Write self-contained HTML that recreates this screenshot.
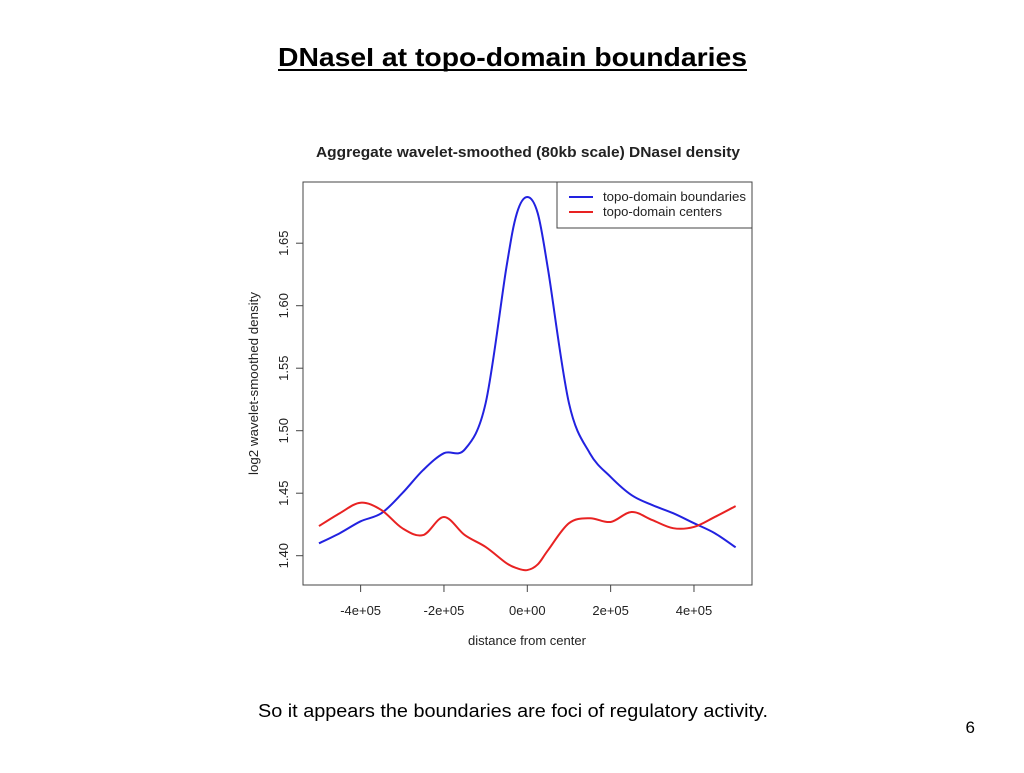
<!DOCTYPE html>
<html><head><meta charset="utf-8"><style>
body{margin:0;width:1024px;height:768px;background:#fff;overflow:hidden;font-family:"Liberation Sans",sans-serif}
svg text{font-family:"Liberation Sans",sans-serif}
</style></head><body>
<svg width="1024" height="768">
<text x="278" y="66" font-size="26" font-weight="bold" textLength="469" lengthAdjust="spacingAndGlyphs">DNaseI at topo-domain boundaries</text>
<line x1="278" y1="70" x2="747" y2="70" stroke="#000" stroke-width="2"/>
<text x="316" y="157" font-size="14.5" font-weight="bold" fill="#222" textLength="424" lengthAdjust="spacingAndGlyphs">Aggregate wavelet-smoothed (80kb scale) DNaseI density</text>
<g id="plot"></g>
<text x="258" y="717" font-size="18" textLength="510" lengthAdjust="spacingAndGlyphs">So it appears the boundaries are foci of regulatory activity.</text>
<text x="975" y="733" text-anchor="end" font-size="17">6</text>
</svg>
<script>
const xs=[-500,-450,-400,-350,-300,-250,-200,-150,-100,-50,-25,0,25,50,100,150,200,250,300,350,400,450,500];
const boundaries=[1.4099,1.418,1.4275,1.434,1.450,1.4685,1.482,1.485,1.522,1.631,1.674,1.687,1.674,1.6285,1.522,1.482,1.463,1.4485,1.4405,1.434,1.426,1.418,1.4067];
const centers=[1.4237,1.434,1.4424,1.4365,1.422,1.4165,1.431,1.4165,1.407,1.394,1.390,1.3885,1.393,1.4045,1.426,1.430,1.427,1.435,1.4285,1.422,1.423,1.431,1.4397];
const xTicks=[-400,-200,0,200,400];
const xTickLabels=["-4e+05","-2e+05","0e+00","2e+05","4e+05"];
const yTicks=[1.40,1.45,1.50,1.55,1.60,1.65];
const yTickLabels=["1.40","1.45","1.50","1.55","1.60","1.65"];
const NS="http://www.w3.org/2000/svg";
const g=document.getElementById('plot');
const X=v=>527.3+v*0.4167;
const Y=v=>555.7-(v-1.40)*1250;
function mk(t,a,txt){const e=document.createElementNS(NS,t);for(const k in a)e.setAttribute(k,a[k]);if(txt!==undefined)e.textContent=txt;g.appendChild(e);return e;}
let e=mk('rect',{x:303,y:182,width:449,height:403,fill:'none',stroke:'#444','stroke-width':1});


xTicks.forEach((t,i)=>{
 let l=mk('line',{x1:X(t),x2:X(t),y1:585,y2:592,stroke:'#444'});
 
 
 let s=mk('text',{x:X(t),y:615,'text-anchor':'middle','font-size':13,fill:'#222'},xTickLabels[i]);
 
 
});
yTicks.forEach((t,i)=>{
 let l=mk('line',{x1:296,x2:303,y1:Y(t),y2:Y(t),stroke:'#444'});
 
 
 let s=mk('text',{x:288,y:Y(t),'text-anchor':'middle','font-size':13,fill:'#222',transform:`rotate(-90 288 ${Y(t)})`},yTickLabels[i]);
 
 
});
e=mk('text',{x:468,y:645,'font-size':13,fill:'#222',textLength:118,lengthAdjust:'spacingAndGlyphs'},'distance from center');


e=mk('text',{x:258,y:475,'font-size':13,fill:'#222',textLength:183,lengthAdjust:'spacingAndGlyphs',transform:'rotate(-90 258 475)'},'log2 wavelet-smoothed density');


function path(vals){
 const p=xs.map((x,i)=>[X(x),Y(vals[i])]);
 let d=`M${p[0][0]},${p[0][1]}`;
 for(let i=0;i<p.length-1;i++){
  const p0=p[Math.max(0,i-1)],p1=p[i],p2=p[i+1],p3=p[Math.min(p.length-1,i+2)];
  const c1=[p1[0]+(p2[0]-p0[0])/6,p1[1]+(p2[1]-p0[1])/6];
  const c2=[p2[0]-(p3[0]-p1[0])/6,p2[1]-(p3[1]-p1[1])/6];
  d+=`C${c1[0]},${c1[1]} ${c2[0]},${c2[1]} ${p2[0]},${p2[1]}`;
 }
 return d;
}
e=mk('path',{d:path(boundaries),fill:'none',stroke:'#2222e0','stroke-width':2});


e=mk('path',{d:path(centers),fill:'none',stroke:'#e82222','stroke-width':2});


e=mk('rect',{x:557,y:182,width:195,height:46,fill:'#fff',stroke:'#444'});


[['#2222e0','topo-domain boundaries',197,143],['#e82222','topo-domain centers',212,119]].forEach(([c,t,y,w])=>{
 let l=mk('line',{x1:569,x2:593,y1:y,y2:y,stroke:c,'stroke-width':2});
 
 
 let s=mk('text',{x:603,y:y+4,'font-size':12.5,fill:'#222',textLength:w,lengthAdjust:'spacingAndGlyphs'},t);
 
 
});
</script>
</body></html>
